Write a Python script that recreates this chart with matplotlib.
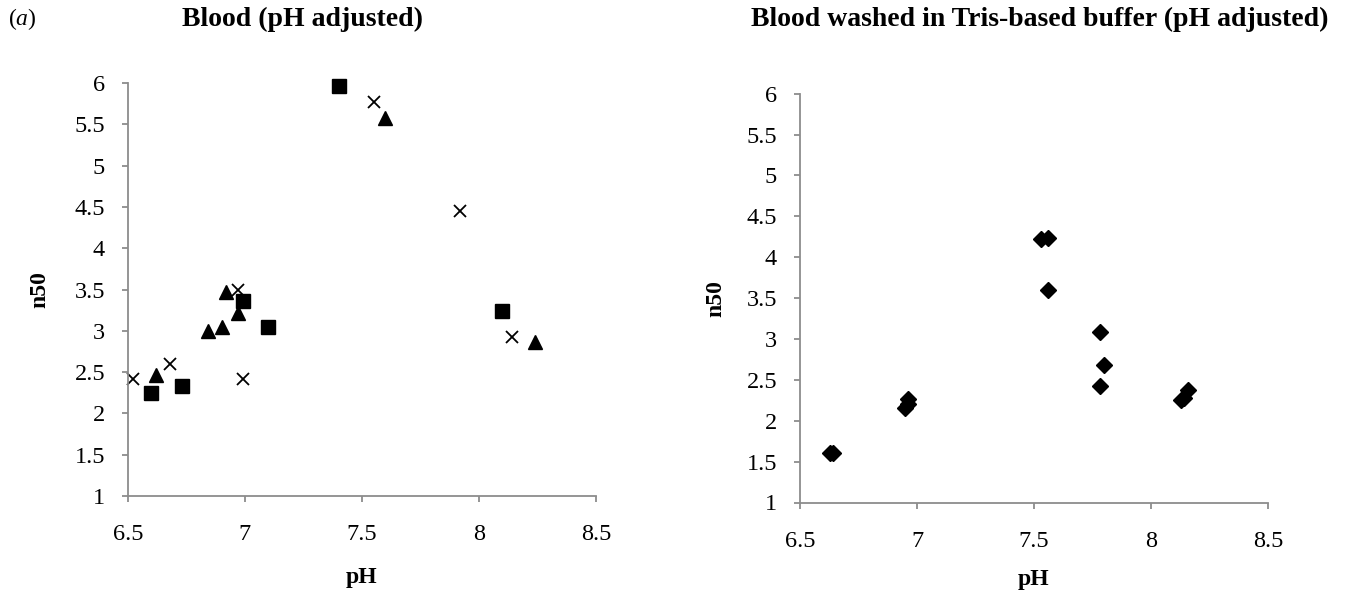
import matplotlib
matplotlib.use("Agg")
import matplotlib.pyplot as plt
from matplotlib.ticker import FuncFormatter

plt.rcParams['font.family'] = ['Liberation Serif', 'DejaVu Serif']
plt.rcParams['mathtext.fontset'] = 'custom'
plt.rcParams['mathtext.it'] = 'Liberation Serif:italic'

# panel (a): blood, pH adjusted - three series
sq_ph = [7.40, 8.10, 6.99, 7.10, 6.60, 6.73]
sq_n50 = [5.96, 3.24, 3.36, 3.04, 2.25, 2.33]

tri_ph = [7.60, 8.24, 6.92, 6.97, 6.84, 6.90, 6.62]
tri_n50 = [5.58, 2.86, 3.47, 3.21, 3.00, 3.05, 2.47]

x_ph = [7.55, 7.92, 6.97, 8.14, 6.68, 6.52, 6.99]
x_n50 = [5.77, 4.45, 3.50, 2.92, 2.60, 2.42, 2.42]

# panel 2: blood washed in Tris buffer
tris_ph = [6.63, 6.64, 6.95, 6.96, 6.96, 7.53, 7.56, 7.56, 7.78, 7.80, 7.78, 8.13, 8.14, 8.16]
tris_n50 = [1.60, 1.61, 2.15, 2.20, 2.27, 4.22, 4.23, 3.60, 3.09, 2.68, 2.42, 2.25, 2.28, 2.38]

x_ticks = [6.5, 7, 7.5, 8, 8.5]
y_ticks = [1, 1.5, 2, 2.5, 3, 3.5, 4, 4.5, 5, 5.5, 6]

W, H = 1345, 597
fig = plt.figure(figsize=(W / 100, H / 100), dpi=100)

ax1 = fig.add_axes([128 / W, 1 - 496 / H, 468 / W, 413 / H])
ax2 = fig.add_axes([800 / W, 1 - 502.5 / H, 468 / W, 408.8 / H])

ax1.plot(sq_ph, sq_n50, "s", color="black", ms=10, ls="none", clip_on=False)
ax1.plot(x_ph, x_n50, "x", color="black", ms=9, mew=1.3, ls="none", clip_on=False)
ax1.plot(tri_ph, tri_n50, "^", color="black", ms=10.5, ls="none", clip_on=False)

ax2.plot(tris_ph, tris_n50, "D", color="black", ms=8.5, ls="none", clip_on=False)

fmt = FuncFormatter(lambda v, p: "{:g}".format(v))
grey = "#8c8c8c"

for ax in (ax1, ax2):
    ax.set_xlim(6.5, 8.5)
    ax.set_ylim(1, 6)
    ax.set_xticks(x_ticks)
    ax.set_yticks(y_ticks)
    ax.xaxis.set_major_formatter(fmt)
    ax.yaxis.set_major_formatter(fmt)
    for s in ("top", "right"):
        ax.spines[s].set_visible(False)
    for s in ("left", "bottom"):
        ax.spines[s].set_color(grey)
        ax.spines[s].set_linewidth(1.3)
    ax.tick_params(axis="both", direction="out", length=4.5, width=1.3,
                   color=grey, labelsize=17.5, labelcolor="black")
    ax.tick_params(axis="y", pad=12)
    ax.tick_params(axis="x", pad=16)
    ax.set_xlabel("pH", fontsize=17, fontweight="bold")
    ax.set_ylabel("n50", fontsize=17, fontweight="bold")

ax1.xaxis.set_label_coords(0.5, -0.172)
ax2.xaxis.set_label_coords(0.5, -0.163)
ax1.yaxis.set_label_coords(-0.165, 0.5)
ax2.yaxis.set_label_coords(-0.158, 0.5)

fig.text(302 / W, 1 - 19 / H, "Blood (pH adjusted)", fontsize=20,
         fontweight="bold", ha="center", va="center")
fig.text(1040 / W, 1 - 19 / H, "Blood washed in Tris-based buffer (pH adjusted)",
         fontsize=20, fontweight="bold", ha="center", va="center")
fig.text(22.5 / W, 1 - 19 / H, r"($\mathit{a}$)", fontsize=17, ha="center", va="center")

fig.savefig("out.png", dpi=100)
